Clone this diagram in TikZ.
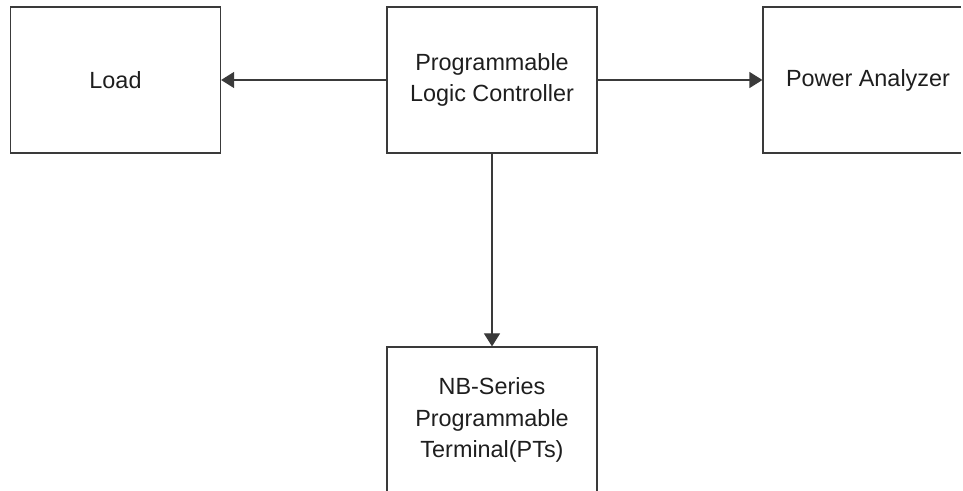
\documentclass[tikz,border=0pt]{standalone}
\usepackage{fontspec}
\setmainfont{Liberation Sans}
\usetikzlibrary{positioning}
\usetikzlibrary{arrows.meta}
\usepackage{xcolor}
\definecolor{linegray}{HTML}{3A3A3A}
\definecolor{textgray}{HTML}{1E1E1E}

\begin{document}
\begin{tikzpicture}[x=0.5pt, y=-0.5pt,
    blockbox/.style={draw=linegray, line width=0.6pt, rectangle, inner sep=0pt,
        minimum width=105pt, minimum height=73pt, align=center, text=textgray,
        font=\fontsize{11.7}{15.9}\selectfont},
    flow/.style={draw=linegray, line width=0.6pt, -{Triangle[length=6.5pt, width=8pt]}}]
            \useasboundingbox (0,0) rectangle (963,491);
            \clip (0,0) rectangle (963,491);
            % blocks
            \node[blockbox] (plc) at (492,80) {Programmable\\Logic Controller};
            \node[blockbox] (load) at (115.5,80) {Load};
            \node[blockbox] (power) at (868,80) {Power Analyzer};
            \node[blockbox] (pt) at (492,420) {NB-Series\\Programmable\\Terminal(PTs)};

            % connections
            \draw[flow] (plc.west) -- (load.east);
            \draw[flow] (plc.east) -- (power.west);
            \draw[flow] (plc.south) -- (pt.north);
            % right side of the last block lies outside the frame
            \draw[white, line width=2pt] (963,0) -- (963,200);
        \end{tikzpicture}
\end{document}
